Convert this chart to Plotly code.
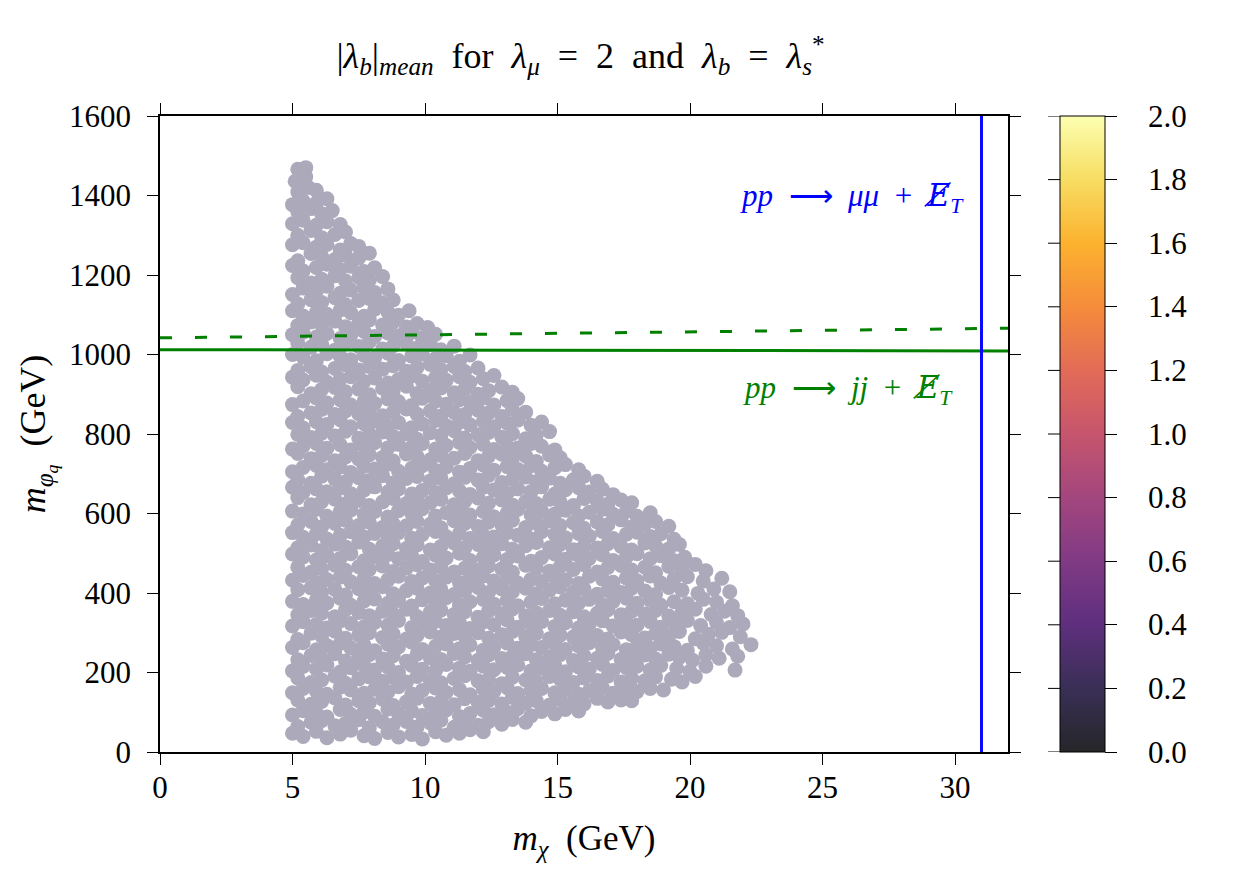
import plotly.graph_objects as go

scan_points = [
    (5.0,47),(5.4,39),(5.9,52),(6.3,36),(6.8,45),(7.2,55),(7.7,41),(8.1,34),(8.6,49),(9.0,38),(9.5,44),(9.9,33),(10.4,51),(10.8,42),(11.3,47),(11.7,56),(12.2,51),
    (5.2,64),(5.7,75),(6.1,79),(6.6,66),(7.0,72),(7.5,81),(7.9,61),(8.4,76),(8.8,68),(9.3,77),(9.7,63),(10.2,73),(10.6,80),(11.1,62),(11.5,74),(12.0,67),(12.4,76),(12.9,70),(13.3,82),(13.8,75),
    (5.0,93),(5.4,104),(5.9,98),(6.3,88),(6.8,107),(7.2,95),(7.7,101),(8.1,90),(8.6,108),(9.0,96),(9.5,103),(9.9,92),(10.4,99),(10.8,106),(11.3,89),(11.7,97),(12.2,105),(12.6,94),(13.1,100),(13.5,109),(14.0,91),(14.4,102),(14.9,96),(15.3,107),(15.8,103),
    (5.2,131),(5.7,120),(6.1,127),(6.6,136),(7.0,118),(7.5,129),(7.9,124),(8.4,133),(8.8,117),(9.3,126),(9.7,135),(10.2,122),(10.6,128),(11.1,119),(11.5,134),(12.0,125),(12.4,130),(12.9,121),(13.3,137),(13.8,123),(14.2,129),(14.7,118),(15.1,132),(15.6,127),(16.0,121),(16.5,135),(16.9,126),(17.4,131),(17.8,129),
    (5.0,149),(5.4,160),(5.9,153),(6.3,145),(6.8,163),(7.2,156),(7.7,148),(8.1,158),(8.6,151),(9.0,164),(9.5,146),(9.9,155),(10.4,161),(10.8,150),(11.3,157),(11.7,144),(12.2,159),(12.6,152),(13.1,162),(13.5,147),(14.0,155),(14.4,160),(14.9,149),(15.3,157),(15.8,145),(16.2,154),(16.7,161),(17.1,148),(17.6,158),(18.0,152),(18.5,160),(19.0,156),
    (5.2,186),(5.7,175),(6.1,181),(6.6,191),(7.0,173),(7.5,184),(7.9,189),(8.4,178),(8.8,187),(9.3,176),(9.7,190),(10.2,180),(10.6,174),(11.1,185),(11.5,192),(12.0,179),(12.4,183),(12.9,172),(13.3,188),(13.8,181),(14.2,177),(14.7,190),(15.1,184),(15.6,175),(16.0,186),(16.5,180),(16.9,191),(17.4,176),(17.8,185),(18.3,179),(18.7,189),(19.3,183),(19.7,176),(20.2,190),
    (5.0,204),(5.4,215),(5.9,209),(6.3,219),(6.8,201),(7.2,212),(7.7,217),(8.1,206),(8.6,214),(9.0,200),(9.5,218),(9.9,208),(10.4,205),(10.8,220),(11.3,211),(11.7,203),(12.2,216),(12.6,207),(13.1,213),(13.5,219),(14.0,204),(14.4,211),(14.9,217),(15.3,202),(15.8,214),(16.2,208),(16.7,220),(17.1,205),(17.6,212),(18.0,216),(18.5,206),(18.9,218),(19.5,210),(20.0,203),(20.6,216),(21.7,206),
    (5.2,232),(5.7,243),(6.1,236),(6.6,247),(7.0,229),(7.5,240),(7.9,245),(8.4,234),(8.8,242),(9.3,228),(9.7,246),(10.2,237),(10.6,233),(11.1,248),(11.5,239),(12.0,231),(12.4,244),(12.9,235),(13.3,241),(13.8,247),(14.2,232),(14.7,239),(15.1,245),(15.6,230),(16.0,242),(16.5,236),(16.9,248),(17.4,233),(17.8,240),(18.3,244),(18.7,234),(19.2,246),(19.6,238),(20.1,231),(20.6,244),(21.1,236),(21.8,241),
    (5.0,263),(5.4,275),(5.9,257),(6.3,268),(6.8,273),(7.2,262),(7.7,269),(8.1,255),(8.6,271),(9.0,264),(9.5,276),(9.9,258),(10.4,266),(10.8,272),(11.3,260),(11.7,269),(12.2,256),(12.6,265),(13.1,274),(13.5,261),(14.0,270),(14.4,263),(14.9,272),(15.3,258),(15.8,267),(16.2,275),(16.7,262),(17.1,270),(17.6,257),(18.0,266),(18.5,261),(18.9,272),(19.4,265),(19.9,256),(20.5,274),(21.0,267),(21.6,259),(22.3,270),
    (5.2,283),(5.7,299),(6.1,292),(6.6,304),(7.0,286),(7.5,294),(7.9,300),(8.4,288),(8.8,297),(9.3,284),(9.7,293),(10.2,302),(10.6,289),(11.1,298),(11.5,291),(12.0,300),(12.4,286),(12.9,295),(13.3,303),(13.8,290),(14.2,298),(14.7,285),(15.1,294),(15.6,289),(16.0,300),(16.5,293),(16.9,284),(17.4,302),(17.8,295),(18.3,287),(18.7,298),(19.2,291),(19.6,303),(20.2,285),(20.7,296),(21.2,301),(21.9,290),
    (5.0,317),(5.4,328),(5.9,321),(6.3,312),(6.8,330),(7.2,323),(7.7,315),(8.1,326),(8.6,319),(9.0,331),(9.5,313),(9.9,324),(10.4,329),(10.8,318),(11.3,325),(11.7,311),(12.2,327),(12.6,320),(13.1,332),(13.5,314),(14.0,322),(14.4,328),(14.9,316),(15.3,325),(15.8,312),(16.2,321),(16.7,330),(17.1,317),(17.6,326),(18.0,319),(18.5,328),(18.9,314),(19.4,323),(19.9,331),(20.4,318),(21.0,326),(21.5,313),(22.0,322),
    (5.2,345),(5.7,356),(6.1,349),(6.6,340),(7.0,358),(7.5,351),(7.9,343),(8.4,354),(8.8,347),(9.3,359),(9.7,341),(10.2,352),(10.6,357),(11.1,346),(11.5,353),(12.0,339),(12.4,355),(12.9,348),(13.3,360),(13.8,342),(14.2,350),(14.7,356),(15.1,344),(15.6,353),(16.0,340),(16.5,349),(16.9,358),(17.4,345),(17.8,354),(18.3,347),(18.7,356),(19.2,342),(19.7,351),(20.2,359),(20.8,346),(21.3,354),(21.8,343),
    (5.0,379),(5.4,371),(5.9,382),(6.3,375),(6.8,387),(7.2,369),(7.7,380),(8.1,385),(8.6,374),(9.0,381),(9.5,367),(9.9,383),(10.4,376),(10.8,388),(11.3,370),(11.7,378),(12.2,384),(12.6,372),(13.1,381),(13.5,368),(14.0,377),(14.4,386),(14.9,373),(15.3,382),(15.8,375),(16.2,384),(16.7,370),(17.1,379),(17.6,387),(18.0,374),(18.5,382),(18.9,369),(19.4,378),(19.9,373),(20.5,384),(21.0,377),(21.6,368),
    (5.2,408),(5.7,413),(6.1,402),(6.6,409),(7.0,395),(7.5,411),(7.9,404),(8.4,416),(8.8,398),(9.3,406),(9.7,412),(10.2,400),(10.6,409),(11.1,396),(11.5,405),(12.0,414),(12.4,401),(12.9,410),(13.3,403),(13.8,412),(14.2,398),(14.7,407),(15.1,415),(15.6,402),(16.0,410),(16.5,397),(16.9,406),(17.4,401),(17.8,412),(18.3,405),(18.7,396),(19.2,414),(19.7,407),(20.3,399),(20.9,410),(21.5,403),
    (5.0,432),(5.4,444),(5.9,426),(6.3,434),(6.8,440),(7.2,428),(7.7,437),(8.1,424),(8.6,433),(9.0,442),(9.5,429),(9.9,438),(10.4,431),(10.8,440),(11.3,426),(11.7,435),(12.2,443),(12.6,430),(13.1,438),(13.5,425),(14.0,434),(14.4,429),(14.9,440),(15.3,433),(15.8,424),(16.2,442),(16.7,435),(17.1,427),(17.6,438),(18.0,431),(18.5,443),(18.9,425),(19.4,436),(19.9,441),(20.5,430),(21.2,437),
    (5.2,465),(5.7,452),(6.1,461),(6.6,470),(7.0,457),(7.5,466),(7.9,459),(8.4,468),(8.8,454),(9.3,463),(9.7,471),(10.2,458),(10.6,466),(11.1,453),(11.5,462),(12.0,457),(12.4,468),(12.9,461),(13.3,452),(13.8,470),(14.2,463),(14.7,455),(15.1,466),(15.6,459),(16.0,471),(16.5,453),(16.9,464),(17.4,469),(17.8,458),(18.3,465),(18.7,451),(19.2,467),(19.7,460),(20.2,472),(20.6,456),
    (5.0,498),(5.4,491),(5.9,483),(6.3,494),(6.8,487),(7.2,499),(7.7,481),(8.1,492),(8.6,497),(9.0,486),(9.5,493),(9.9,479),(10.4,495),(10.8,488),(11.3,500),(11.7,482),(12.2,490),(12.6,496),(13.1,484),(13.5,493),(14.0,480),(14.4,489),(14.9,498),(15.3,485),(15.8,494),(16.2,487),(16.7,496),(17.1,482),(17.6,491),(18.0,499),(18.5,486),(18.9,494),(19.4,481),(19.8,490),
    (5.2,514),(5.7,521),(6.1,507),(6.6,523),(7.0,516),(7.5,528),(7.9,510),(8.4,518),(8.8,524),(9.3,512),(9.7,521),(10.2,508),(10.6,517),(11.1,526),(11.5,513),(12.0,522),(12.4,515),(12.9,524),(13.3,510),(13.8,519),(14.2,527),(14.7,514),(15.1,522),(15.6,509),(16.0,518),(16.5,513),(16.9,524),(17.4,517),(17.8,508),(18.3,526),(18.7,519),(19.2,511),(19.6,522),
    (5.0,552),(5.4,540),(5.9,549),(6.3,536),(6.8,545),(7.2,554),(7.7,541),(8.1,550),(8.6,543),(9.0,552),(9.5,538),(9.9,547),(10.4,555),(10.8,542),(11.3,550),(11.7,537),(12.2,546),(12.6,541),(13.1,552),(13.5,545),(14.0,536),(14.4,554),(14.9,547),(15.3,539),(15.8,550),(16.2,543),(16.7,555),(17.1,537),(17.6,548),(18.0,553),(18.5,542),(18.9,549),(19.4,535),
    (5.2,571),(5.7,580),(6.1,566),(6.6,575),(7.0,583),(7.5,570),(7.9,578),(8.4,565),(8.8,574),(9.3,569),(9.7,580),(10.2,573),(10.6,564),(11.1,582),(11.5,575),(12.0,567),(12.4,578),(12.9,571),(13.3,583),(13.8,565),(14.2,576),(14.7,581),(15.1,570),(15.6,577),(16.0,563),(16.5,579),(16.9,572),(17.4,584),(17.8,566),(18.3,574),(18.7,580),(19.2,568),
    (5.0,606),(5.4,599),(5.9,611),(6.3,593),(6.8,604),(7.2,609),(7.7,598),(8.1,605),(8.6,591),(9.0,607),(9.5,600),(9.9,612),(10.4,594),(10.8,602),(11.3,608),(11.7,596),(12.2,605),(12.6,592),(13.1,601),(13.5,610),(14.0,597),(14.4,606),(14.9,599),(15.3,608),(15.8,594),(16.2,603),(16.7,611),(17.1,598),(17.6,606),(18.0,593),(18.5,602),
    (5.2,640),(5.7,622),(6.1,630),(6.6,636),(7.0,624),(7.5,633),(7.9,620),(8.4,629),(8.8,638),(9.3,625),(9.7,634),(10.2,627),(10.6,636),(11.1,622),(11.5,631),(12.0,639),(12.4,626),(12.9,634),(13.3,621),(13.8,630),(14.2,625),(14.7,636),(15.1,629),(15.6,620),(16.0,638),(16.5,631),(16.9,623),(17.4,634),(17.8,627),
    (5.0,666),(5.4,653),(5.9,662),(6.3,655),(6.8,664),(7.2,650),(7.7,659),(8.1,667),(8.6,654),(9.0,662),(9.5,649),(9.9,658),(10.4,653),(10.8,664),(11.3,657),(11.7,648),(12.2,666),(12.6,659),(13.1,651),(13.5,662),(14.0,655),(14.4,667),(14.9,649),(15.3,660),(15.8,665),(16.2,654),(16.7,661),(17.1,647),
    (5.2,685),(5.7,676),(6.1,694),(6.6,687),(7.0,679),(7.5,690),(7.9,683),(8.4,695),(8.8,677),(9.3,688),(9.7,693),(10.2,682),(10.6,689),(11.1,675),(11.5,691),(12.0,684),(12.4,696),(12.9,678),(13.3,686),(13.8,692),(14.2,680),(14.7,689),(15.1,676),(15.6,685),(16.0,694),(16.5,681),
    (5.0,705),(5.4,716),(5.9,721),(6.3,710),(6.8,717),(7.2,703),(7.7,719),(8.1,712),(8.6,724),(9.0,706),(9.5,714),(9.9,720),(10.4,708),(10.8,717),(11.3,704),(11.7,713),(12.2,722),(12.6,709),(13.1,718),(13.5,711),(14.0,720),(14.4,706),(14.9,715),(15.3,723),(15.8,710),
    (5.2,751),(5.7,738),(6.1,746),(6.6,733),(7.0,742),(7.5,737),(7.9,748),(8.4,741),(8.8,732),(9.3,750),(9.7,743),(10.2,735),(10.6,746),(11.1,739),(11.5,751),(12.0,733),(12.4,744),(12.9,749),(13.3,738),(13.8,745),(14.2,731),(14.7,747),(15.1,740),
    (5.0,762),(5.4,770),(5.9,776),(6.3,764),(6.8,773),(7.2,760),(7.7,769),(8.1,778),(8.6,765),(9.0,774),(9.5,767),(9.9,776),(10.4,762),(10.8,771),(11.3,779),(11.7,766),(12.2,774),(12.6,761),(13.1,770),(13.5,765),(14.0,776),(14.4,769),(14.9,760),
    (5.2,799),(5.7,791),(6.1,802),(6.6,795),(7.0,807),(7.5,789),(7.9,800),(8.4,805),(8.8,794),(9.3,801),(9.7,787),(10.2,803),(10.6,796),(11.1,808),(11.5,790),(12.0,798),(12.4,804),(12.9,792),(13.3,801),(13.8,788),(14.2,797),(14.7,806),
    (5.0,829),(5.4,815),(5.9,831),(6.3,824),(6.8,836),(7.2,818),(7.7,826),(8.1,832),(8.6,820),(9.0,829),(9.5,816),(9.9,825),(10.4,834),(10.8,821),(11.3,830),(11.7,823),(12.2,832),(12.6,818),(13.1,827),(13.5,835),(14.0,822),(14.4,830),
    (5.2,844),(5.7,853),(6.1,862),(6.6,849),(7.0,858),(7.5,851),(7.9,860),(8.4,846),(8.8,855),(9.3,863),(9.7,850),(10.2,858),(10.6,845),(11.1,854),(11.5,849),(12.0,860),(12.4,853),(12.9,844),(13.3,862),(13.8,855),
    (5.0,874),(5.4,883),(5.9,891),(6.3,878),(6.8,886),(7.2,873),(7.7,882),(8.1,877),(8.6,888),(9.0,881),(9.5,872),(9.9,890),(10.4,883),(10.8,875),(11.3,886),(11.7,879),(12.2,891),(12.6,873),(13.1,884),(13.5,889),
    (5.2,919),(5.7,901),(6.1,912),(6.6,917),(7.0,906),(7.5,913),(7.9,899),(8.4,915),(8.8,908),(9.3,920),(9.7,902),(10.2,910),(10.6,916),(11.1,904),(11.5,913),(12.0,900),(12.4,909),(12.9,918),(13.3,905),
    (5.0,943),(5.4,936),(5.9,948),(6.3,930),(6.8,938),(7.2,944),(7.7,932),(8.1,941),(8.6,928),(9.0,937),(9.5,946),(9.9,933),(10.4,942),(10.8,935),(11.3,944),(11.7,930),(12.2,939),(12.6,947),
    (5.2,960),(5.7,969),(6.1,956),(6.6,965),(7.0,974),(7.5,961),(7.9,970),(8.4,963),(8.8,972),(9.3,958),(9.7,967),(10.2,975),(10.6,962),(11.1,970),(11.5,957),(12.0,966),
    (5.0,1000),(5.4,993),(5.9,984),(6.3,1002),(6.8,995),(7.2,987),(7.7,998),(8.1,991),(8.6,1003),(9.0,985),(9.5,996),(9.9,1001),(10.4,990),(10.8,997),(11.3,983),(11.7,999),
    (5.2,1029),(5.7,1018),(6.1,1025),(6.6,1011),(7.0,1027),(7.5,1020),(7.9,1032),(8.4,1014),(8.8,1022),(9.3,1028),(9.7,1016),(10.2,1025),(10.6,1012),(11.1,1021),
    (5.0,1050),(5.4,1056),(5.9,1044),(6.3,1053),(6.8,1040),(7.2,1049),(7.7,1058),(8.1,1045),(8.6,1054),(9.0,1047),(9.5,1056),(9.9,1042),(10.4,1051),
    (5.2,1073),(5.7,1082),(6.1,1075),(6.6,1084),(7.0,1070),(7.5,1079),(7.9,1087),(8.4,1074),(8.8,1082),(9.3,1069),(9.7,1078),(10.1,1068),
    (5.0,1110),(5.4,1097),(5.9,1106),(6.3,1101),(6.8,1112),(7.2,1105),(7.7,1096),(8.1,1114),(8.6,1107),(9.0,1099),(9.4,1110),
    (5.2,1127),(5.7,1138),(6.1,1131),(6.6,1143),(7.0,1125),(7.5,1136),(7.9,1141),(8.4,1130),(8.8,1137),
    (5.0,1151),(5.4,1167),(5.9,1160),(6.3,1172),(6.8,1154),(7.2,1162),(7.7,1168),(8.1,1156),(8.6,1165),
    (5.2,1193),(5.7,1180),(6.1,1189),(6.6,1198),(7.0,1185),(7.5,1194),(7.9,1187),(8.4,1196),
    (5.0,1224),(5.4,1210),(5.9,1219),(6.3,1227),(6.8,1214),(7.2,1222),(7.7,1209),(8.1,1218),
    (5.2,1236),(5.7,1254),(6.1,1247),(6.6,1239),(7.0,1250),(7.5,1243),(7.9,1255),
    (5.0,1276),(5.4,1281),(5.9,1270),(6.3,1277),(6.8,1263),(7.2,1279),(7.5,1272),
    (5.2,1300),(5.7,1312),(6.1,1294),(6.6,1302),(7.0,1308),
    (5.0,1329),(5.4,1338),(5.9,1325),(6.3,1334),(6.8,1327),
    (5.2,1359),(5.7,1367),(6.1,1354),(6.5,1362),
    (5.0,1377),(5.4,1386),(5.9,1381),(6.3,1392),
    (5.2,1409),(5.6,1420),(5.9,1413),
    (5.1,1436),(5.5,1447),
    (5.2,1466),(5.5,1470),
]
m_chi = [p[0] for p in scan_points]
m_phi = [p[1] for p in scan_points]

# exclusion lines
jj_x = [0, 32]
jj_solid_y = [1012, 1009]
jj_dashed_y = [1042, 1066]
mumu_x = [31, 31]
mumu_y = [0, 1600]

cbar_ticks = [0.0, 0.2, 0.4, 0.6, 0.8, 1.0, 1.2, 1.4, 1.6, 1.8, 2.0]
# inferno, slightly washed out
inferno_faded = [
    [0.0, "#262629"], [0.1, "#392f56"], [0.2, "#5e2f7e"], [0.3, "#803a84"],
    [0.4, "#a3467e"], [0.5, "#c6556d"], [0.6, "#e26b57"], [0.7, "#f58c3b"],
    [0.8, "#fcb22f"], [0.9, "#f7dd62"], [1.0, "#fcffb1"],
]

FONT = "Liberation Serif, Times New Roman, serif"
SP = "\u2002"  # en space, for the wider math spacing
MET = '<span style="font-family:DejaVu Serif"><i>E\u0338</i></span><sub><i>T</i></sub>'

fig = go.Figure()

fig.add_trace(go.Scatter(
    x=m_chi, y=m_phi, mode="markers",
    marker=dict(size=15, color="#aca9bb", line=dict(width=0)),
    showlegend=False, hoverinfo="skip",
))
fig.add_trace(go.Scatter(x=jj_x, y=jj_solid_y, mode="lines",
                         line=dict(color="#008000", width=3), showlegend=False))
fig.add_trace(go.Scatter(x=jj_x, y=jj_dashed_y, mode="lines",
                         line=dict(color="#008000", width=3, dash="12px,23px"), showlegend=False))
fig.add_trace(go.Scatter(x=mumu_x, y=mumu_y, mode="lines",
                         line=dict(color="#0a0aff", width=3), showlegend=False))

CB_X = 1.0613
# colorbar only (labels are written separately below)
fig.add_trace(go.Scatter(
    x=[None], y=[None], mode="markers", showlegend=False,
    marker=dict(color=[0], cmin=0, cmax=2, colorscale=inferno_faded, showscale=True,
                colorbar=dict(
                    x=CB_X, xanchor="left", xpad=0, y=0.5, yanchor="middle",
                    len=1, lenmode="fraction", thickness=45, ypad=0,
                    outlinecolor="black", outlinewidth=1,
                    tickvals=cbar_ticks, showticklabels=False,
                    ticks="outside", ticklen=12, tickwidth=1, tickcolor="black",
                )),
))

# left-side ticks and labels of the colorbar (value v sits at y = 800*v)
for v in cbar_ticks:
    fig.add_shape(type="line", xref="paper", yref="y",
                  x0=CB_X - 12 / 848, x1=CB_X, y0=v * 800, y1=v * 800,
                  line=dict(color="black", width=1))
    fig.add_annotation(x=1.163, y=v * 800, xref="paper", yref="y",
                       xanchor="left", yanchor="middle", showarrow=False,
                       text=f"{v:.1f}", font=dict(family=FONT, size=31, color="black"))

fig.add_annotation(
    x=30.4, y=1394, xref="x", yref="y", xanchor="right", yanchor="middle",
    text=f"<i>pp</i>{SP}\u27f6{SP}<i>\u03bc\u03bc</i>{SP}+{SP}" + MET,
    showarrow=False, font=dict(family=FONT, size=31, color="#0000ff"),
)
fig.add_annotation(
    x=30.0, y=911, xref="x", yref="y", xanchor="right", yanchor="middle",
    text=f"<i>pp</i>{SP}\u27f6{SP}<i>jj</i>{SP}+{SP}" + MET,
    showarrow=False, font=dict(family=FONT, size=31, color="#008000"),
)

axis_common = dict(
    showline=True, linecolor="black", linewidth=1.5, mirror="ticks",
    ticks="outside", ticklen=11, tickwidth=1.2, tickcolor="black",
    showgrid=False, zeroline=False,
    tickfont=dict(family=FONT, size=31, color="black"),
)

fig.update_xaxes(
    range=[0, 32], tickvals=[0, 5, 10, 15, 20, 25, 30], ticklabelstandoff=-4,
    title=dict(text=f"<i>m</i><sub><i>\u03c7</i></sub>{SP}(GeV)", standoff=22,
               font=dict(family=FONT, size=35, color="black")),
    **axis_common,
)
fig.update_yaxes(
    range=[0, 1600], dtick=200, ticklabelstandoff=10,
    title=dict(text=f"<i>m</i><sub><i>\u03c6<sub>q</sub></i></sub>{SP}(GeV)", standoff=12,
               font=dict(family=FONT, size=36, color="black")),
    **axis_common,
)

fig.update_layout(
    width=1250, height=875,
    margin=dict(l=152, r=250, t=108, b=131),
    plot_bgcolor="white", paper_bgcolor="white",
    title=dict(
        text=f"|<i>\u03bb</i><sub><i>b</i></sub>|<sub><i>mean</i></sub>{SP}for{SP}"
             f"<i>\u03bb</i><sub><i>\u03bc</i></sub>{SP}={SP}2{SP}and{SP}"
             f"<i>\u03bb</i><sub><i>b</i></sub>{SP}={SP}<i>\u03bb</i><sub><i>s</i></sub><sup>*</sup>",
        x=0.458, xanchor="center", y=0.946, yanchor="middle",
        font=dict(family=FONT, size=36, color="black"),
    ),
    font=dict(family=FONT, color="black"),
)

fig.write_html("out.html")
